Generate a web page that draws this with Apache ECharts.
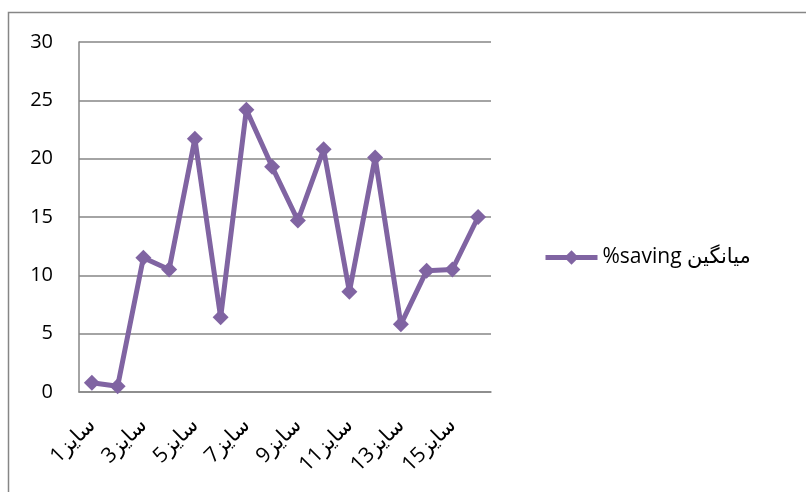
<!DOCTYPE html>
<html>
<head>
<meta charset="utf-8">
<script src="https://cdn.jsdelivr.net/npm/echarts@6/dist/echarts.min.js"></script>
<style>
html,body{margin:0;padding:0;background:#fff;}
#chart{width:806px;height:492px;}
</style>
</head>
<body>
<div id="chart"></div>
<script>
const categories = ['سایز1','سایز2','سایز3','سایز4','سایز5','سایز6','سایز7','سایز8','سایز9','سایز10','سایز11','سایز12','سایز13','سایز14','سایز15','سایز16'];
const seriesName = '%saving میانگین';
const values = [0.8, 0.5, 11.5, 10.5, 21.7, 6.4, 24.2, 19.3, 14.7, 20.8, 8.6, 20.1, 5.8, 10.4, 10.5, 15.0];
const yTicks = {min: 0, max: 30, interval: 5};

const font = '"Open Sans", "DejaVu Sans", sans-serif';
const chart = echarts.init(document.getElementById('chart'));
chart.setOption({
  animation: false,
  backgroundColor: '#fff',
  graphic: [{
    type: 'rect',
    shape: {x: 8.5, y: 12.5, width: 900, height: 600},
    style: {fill: 'none', stroke: '#868686', lineWidth: 1.5},
    silent: true
  }],
  grid: {left: 79, right: 315, top: 42, bottom: 100, containLabel: false},
  legend: {
    data: [seriesName],
    left: 538, top: 242,
    itemWidth: 52, itemHeight: 18,
    itemGap: 8,
    lineStyle: {width: 5},
    textStyle: {fontSize: 21, color: '#000', fontFamily: font}
  },
  xAxis: {
    type: 'category',
    data: categories,
    boundaryGap: true,
    axisLine: {lineStyle: {color: '#868686', width: 1.5}},
    axisTick: {show: false},
    axisLabel: {interval: 1, rotate: 45, fontSize: 21, color: '#000', fontFamily: font, margin: 30}
  },
  yAxis: {
    type: 'value',
    min: yTicks.min, max: yTicks.max, interval: yTicks.interval,
    axisLine: {show: true, lineStyle: {color: '#868686', width: 1.5}},
    axisTick: {show: false},
    splitLine: {lineStyle: {color: '#868686', width: 1.5}},
    axisLabel: {fontSize: 20, color: '#000', fontFamily: font, margin: 26}
  },
  series: [{
    name: seriesName,
    type: 'line',
    data: values,
    symbol: 'diamond',
    symbolSize: 16,
    color: '#8064A2',
    lineStyle: {width: 5, color: '#8064A2'},
    itemStyle: {color: '#8064A2'}
  }]
});
</script>
</body>
</html>
